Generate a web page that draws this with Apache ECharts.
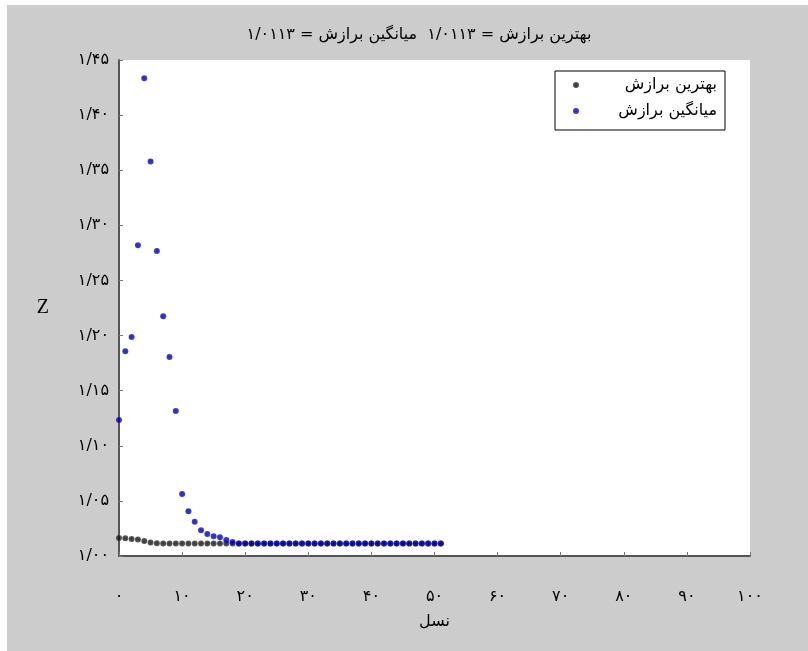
<!DOCTYPE html>
<html>
<head>
<meta charset="utf-8">
<script src="https://cdn.jsdelivr.net/npm/echarts@6/dist/echarts.min.js"></script>
<style>
    html, body { margin: 0; padding: 0; background: #ffffff; }
    #chart { position: absolute; left: 7px; top: 5px; width: 801px; height: 646px; }
</style>
</head>
<body>
<div id="chart"></div>
<script>
// نسل‌ها
const generations = [
    0, 1, 2, 3, 4, 5, 6, 7, 8, 9, 10, 11, 12, 13, 14, 15, 16, 17, 18, 19,
    20, 21, 22, 23, 24, 25, 26, 27, 28, 29, 30, 31, 32, 33, 34, 35, 36, 37, 38, 39,
    40, 41, 42, 43, 44, 45, 46, 47, 48, 49, 50, 51
];

// بهترین برازش
const bestFitness = [
    1.0163, 1.0160, 1.0155, 1.0150, 1.0135, 1.0122, 1.0116, 1.0114, 1.0113, 1.0113,
    1.0113, 1.0113, 1.0113, 1.0113, 1.0113, 1.0113, 1.0113, 1.0113, 1.0113, 1.0113,
    1.0113, 1.0113, 1.0113, 1.0113, 1.0113, 1.0113, 1.0113, 1.0113, 1.0113, 1.0113,
    1.0113, 1.0113, 1.0113, 1.0113, 1.0113, 1.0113, 1.0113, 1.0113, 1.0113, 1.0113,
    1.0113, 1.0113, 1.0113, 1.0113, 1.0113, 1.0113, 1.0113, 1.0113, 1.0113, 1.0113,
    1.0113, 1.0113
];

// میانگین برازش
const meanFitness = [
    1.1234, 1.1857, 1.1987, 1.2820, 1.4335, 1.3580, 1.2768, 1.2175, 1.1806, 1.1316,
    1.0563, 1.0406, 1.0311, 1.0233, 1.0200, 1.0180, 1.0170, 1.0145, 1.0127, 1.0113,
    1.0113, 1.0113, 1.0113, 1.0113, 1.0113, 1.0113, 1.0113, 1.0113, 1.0113, 1.0113,
    1.0113, 1.0113, 1.0113, 1.0113, 1.0113, 1.0113, 1.0113, 1.0113, 1.0113, 1.0113,
    1.0113, 1.0113, 1.0113, 1.0113, 1.0113, 1.0113, 1.0113, 1.0113, 1.0113, 1.0113,
    1.0113, 1.0113
];

const xTickLabels = ['۰', '۱۰', '۲۰', '۳۰', '۴۰', '۵۰', '۶۰', '۷۰', '۸۰', '۹۰', '۱۰۰'];
const yTickLabels = ['۱/۰۰', '۱/۰۵', '۱/۱۰', '۱/۱۵', '۱/۲۰', '۱/۲۵', '۱/۳۰', '۱/۳۵', '۱/۴۰', '۱/۴۵'];

const seriesNames = ['بهترین برازش', 'میانگین برازش'];
const titleText = 'بهترین برازش = ۱/۰۱۱۳  میانگین برازش = ۱/۰۱۱۳';

const fontFa = "'DejaVu Sans', sans-serif";

const chart = echarts.init(document.getElementById('chart'));

const dotStyle = (inner, outer) => ({
    color: new echarts.graphic.RadialGradient(0.5, 0.5, 0.5, [
        { offset: 0, color: inner },
        { offset: 1, color: outer }
    ])
});

chart.setOption({
    animation: false,
    backgroundColor: '#cccccc',
    title: {
        text: '\u202B' + titleText + '\u202C',
        left: 407,
        top: 17,
        textAlign: 'center',
        textStyle: { fontFamily: fontFa, fontSize: 16, fontWeight: 'normal', color: '#000' }
    },
    legend: {
        orient: 'vertical',
        left: 548,
        top: 66,
        data: seriesNames,
        icon: 'circle',
        itemWidth: 6,
        itemHeight: 6,
        itemGap: 10,
        padding: [6, 8, 11, 18],
        backgroundColor: '#ffffff',
        borderColor: '#000000',
        borderWidth: 1,
        borderRadius: 0,
        formatter: name => '{t|' + name + '}',
        textStyle: {
            rich: {
                t: { width: 133, align: 'right', fontFamily: fontFa, fontSize: 16, lineHeight: 17, color: '#000' }
            }
        }
    },
    grid: { left: 112, right: 58, top: 55, bottom: 95 },
    xAxis: {
        type: 'value',
        min: 0,
        max: 100,
        interval: 10,
        name: 'نسل',
        nameLocation: 'middle',
        nameGap: 58,
        nameTextStyle: { fontFamily: fontFa, fontSize: 16, color: '#000' },
        axisLine: { onZero: false, lineStyle: { color: '#555555', width: 2 } },
        axisTick: { inside: true, length: 4, lineStyle: { color: '#777777' } },
        axisLabel: {
            margin: 33,
            fontFamily: fontFa,
            fontSize: 16,
            color: '#000',
            formatter: v => xTickLabels[Math.round(v / 10)]
        },
        splitLine: { show: false }
    },
    yAxis: {
        type: 'value',
        min: 1.0,
        max: 1.45,
        interval: 0.05,
        name: 'Z',
        nameLocation: 'middle',
        nameRotate: 0,
        nameGap: 70,
        nameTextStyle: { fontFamily: "'Liberation Serif', serif", fontSize: 20, color: '#000' },
        axisLine: { show: true, onZero: false, lineStyle: { color: '#555555', width: 2 } },
        axisTick: { show: true, inside: true, length: 4, lineStyle: { color: '#777777' } },
        axisLabel: {
            margin: 10,
            fontFamily: fontFa,
            fontSize: 16,
            color: '#000',
            formatter: v => yTickLabels[Math.round((v - 1) / 0.05)]
        },
        splitLine: { show: false }
    },
    series: [
        {
            name: seriesNames[0],
            type: 'scatter',
            symbol: 'circle',
            symbolSize: 6,
            itemStyle: dotStyle('#000000', '#333333'),
            data: generations.map((g, i) => [g, bestFitness[i]])
        },
        {
            name: seriesNames[1],
            type: 'scatter',
            symbol: 'circle',
            symbolSize: 6,
            itemStyle: dotStyle('#000040', '#0a0aff'),
            data: generations.map((g, i) => [g, meanFitness[i]])
        }
    ]
});

// سفید کردن ناحیه رسم
chart.setOption({
    graphic: [{
        type: 'rect',
        z: -1,
        shape: chart.getModel().getComponent('grid').coordinateSystem.getRect(),
        style: { fill: '#ffffff' }
    }]
});
</script>
</body>
</html>
